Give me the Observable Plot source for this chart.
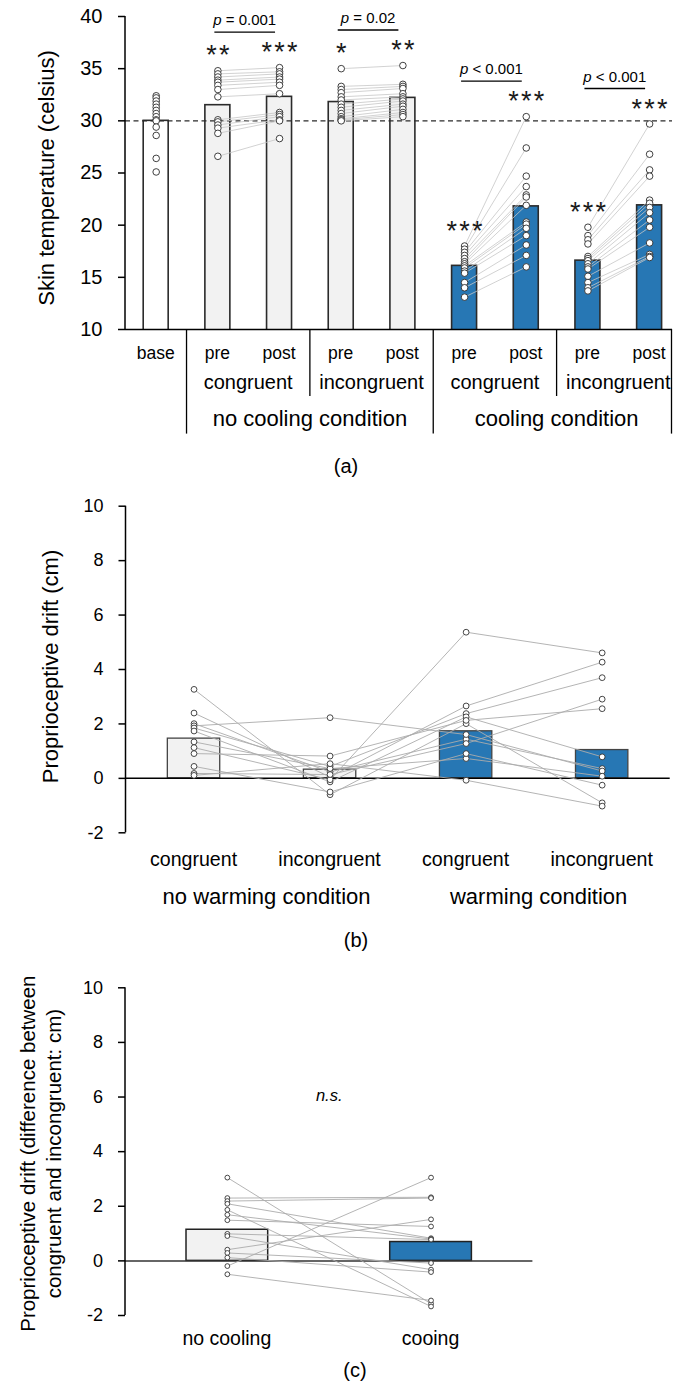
<!DOCTYPE html>
<html>
<head>
<meta charset="utf-8">
<script src="https://cdn.jsdelivr.net/npm/d3@7"></script>
<script src="https://cdn.jsdelivr.net/npm/@observablehq/plot@0.6"></script>
<style>
  html, body { margin: 0; padding: 0; background: #fff; overflow: hidden; }
  #wrap { position: relative; width: 673px; height: 1385px; font-family: "Liberation Sans", Arial, Helvetica, sans-serif; }
  #wrap > svg { position: absolute; left: 0; }
  .cap { position: absolute; width: 100px; text-align: center; font-size: 20px; line-height: 24px; color: #000; }
</style>
</head>
<body>
<div id="wrap"></div>
<script>
const FONT = '"Liberation Sans", Arial, Helvetica, sans-serif';
const BLUE = "#2777b4";
const LIGHT = "#f2f2f2";

// ---------------- Panel (a): skin temperature ----------------
const tempCats = ["base", "ncCongPre", "ncCongPost", "ncIncPre", "ncIncPost", "cCongPre", "cCongPost", "cIncPre", "cIncPost"];
const tempTickLabels = ["base", "pre", "post", "pre", "post", "pre", "post", "pre", "post"];
const tempBarGroup = ["base", "nc", "nc", "nc", "nc", "c", "c", "c", "c"];
const tempGroupLabels = ["congruent", "incongruent", "congruent", "incongruent"];
const tempGroupMembers = [[1, 2], [3, 4], [5, 6], [7, 8]];
const tempConditionLabels = ["no cooling condition", "cooling condition"];
const tempConditionMembers = [[1, 2, 3, 4], [5, 6, 7, 8]];
const tempMeans = [30.0, 31.5, 32.3, 31.8, 32.2, 16.1, 21.8, 16.6, 21.9];
const tempStars = ["", "**", "***", "*", "**", "***", "***", "***", "***"];
const tempPLabels = ["= 0.001", "= 0.02", "< 0.001", "< 0.001"];
const tempYTicks = [10, 15, 20, 25, 30, 35, 40];
const tempYTitle = "Skin temperature (celsius)";

const tempBase          = [32.4, 32.2, 31.9, 31.6, 31.3, 31.0, 30.7, 30.4, 30.1, 30.0, 29.4, 28.6, 26.4, 25.1];
const tempNoCoolCongPre  = [34.8, 34.5, 34.2, 33.9, 33.7, 33.4, 33.0, 32.3, 30.1, 29.9, 29.6, 29.3, 28.8, 26.6];
const tempNoCoolCongPost = [35.1, 34.7, 34.5, 34.2, 34.0, 33.7, 33.4, 32.6, 30.8, 30.6, 30.4, 30.1, 30.0, 28.3];
const tempNoCoolIncPre   = [35.0, 33.3, 33.0, 32.7, 32.3, 32.0, 31.6, 31.3, 31.0, 30.7, 30.4, 30.2, 30.1, 30.0];
const tempNoCoolIncPost  = [35.3, 33.5, 33.3, 33.1, 32.6, 32.3, 32.1, 31.9, 31.6, 31.4, 31.1, 30.8, 30.6, 30.4];
const tempCoolCongPre    = [18.0, 17.7, 17.4, 17.1, 16.8, 16.5, 16.3, 16.1, 15.9, 15.6, 15.4, 14.5, 14.0, 13.1];
const tempCoolCongPost   = [30.4, 27.4, 24.7, 23.7, 22.9, 22.7, 21.9, 20.3, 20.1, 19.7, 19.0, 18.1, 17.1, 16.0];
const tempCoolIncPre     = [19.8, 19.0, 18.6, 18.2, 17.0, 16.8, 16.6, 16.3, 16.0, 15.8, 15.1, 14.5, 14.0, 13.7];
const tempCoolIncPost    = [29.7, 26.8, 25.3, 24.7, 22.4, 22.1, 21.7, 21.2, 20.5, 19.8, 18.3, 17.2, 17.0, 16.9];

// ---------------- Panel (b): proprioceptive drift ----------------
const driftCats = ["nwCong", "nwInc", "wCong", "wInc"];
const driftTickLabels = ["congruent", "incongruent", "congruent", "incongruent"];
const driftBarGroup = ["nc", "nc", "c", "c"];
const driftConditionLabels = ["no warming condition", "warming condition"];
const driftConditionMembers = [[0, 1], [2, 3]];
const driftMeans = [1.46, 0.32, 1.73, 1.04];
const driftYTicks = [-2, 0, 2, 4, 6, 8, 10];
const driftYTitle = "Proprioceptive drift (cm)";
// one entry per participant, same order in every array
const driftNoWarmCong = [3.27, 2.40, 2.01, 1.93, 1.85, 1.74, 1.34, 1.13, 0.91, 0.44, 0.18, 0.11];
const driftNoWarmInc  = [-0.60, 0.05, 0.24, 2.23, 0.44, -0.13, 0.36, -0.05, 0.82, -0.50, 0.14, 0.54];
const driftWarmCong   = [2.01, 2.66, 1.44, 1.61, 2.38, 2.26, 0.73, 5.37, 2.13, 0.91, 1.28, -0.07];
const driftWarmInc    = [-0.90, 4.27, 0.36, 0.27, 3.70, 0.79, 0.08, 4.61, 2.56, -0.25, 2.91, -1.02];

// ---------------- Panel (c): difference congruent - incongruent ----------------
const diffCats = ["noCooling", "cooling"];
const diffTickLabels = ["no cooling", "cooing"];
const diffBarGroup = ["nc", "c"];
const diffMeans = [1.14, 0.69];
const diffYTicks = [-2, 0, 2, 4, 6, 8, 10];
const diffYTitle = "Proprioceptive drift (difference between\ncongruent and incongruent: cm)";
const diffNote = "n.s.";
const diffNoCooling = [3.05, 2.30, 2.19, 2.09, 1.87, 1.69, 1.49, 0.99, 0.91, 0.41, 0.29, 0.12, -0.19, -0.49];
const diffCooling   = [-1.57, 2.33, 2.30, 0.83, -1.67, 0.80, 1.26, 0.78, -0.32, 1.52, -0.08, -0.41, 3.05, -1.45];

// ---------------- helpers ----------------
function textAt(g, x, y, size, str) {
  return g.append("text").attr("x", x).attr("y", y).attr("dy", "0.35em").attr("font-size", size).text(str);
}
function vline(g, x, y1, y2, w) {
  g.append("line").attr("x1", x).attr("x2", x).attr("y1", y1).attr("y2", y2)
    .attr("stroke", "#000").attr("stroke-width", w);
}
function longRows(series, cats) {
  return series.flatMap((vals, j) => vals.map((v, i) => ({cat: cats[j], value: v, id: i})));
}
const colorScale = {domain: ["base", "nc", "c"], range: ["#ffffff", LIGHT, BLUE]};
const baseStyle = {fontFamily: FONT, fontSize: "20px", color: "#000", background: "transparent", overflow: "visible"};

// ---------------- build panel (a) ----------------
const tempSeries = [tempBase, tempNoCoolCongPre, tempNoCoolCongPost, tempNoCoolIncPre, tempNoCoolIncPost,
                    tempCoolCongPre, tempCoolCongPost, tempCoolIncPre, tempCoolIncPost];
const tempBars = tempCats.map((c, j) => ({cat: c, value: tempMeans[j], group: tempBarGroup[j]}));
const tempPoints = longRows(tempSeries, tempCats);
const tempLinks = tempGroupMembers.flatMap(([a, b]) =>
  tempSeries[a].map((v, i) => ({c1: tempCats[a], v1: v, c2: tempCats[b], v2: tempSeries[b][i]})));
const tempStarRows = tempCats.map((c, j) => ({cat: c, top: d3.max(tempSeries[j]), star: tempStars[j]}))
  .filter(d => d.star);

function decorA(index, scales, values, dims) {
  const {x, y} = scales;
  const cx = j => x(tempCats[j]) + x.bandwidth() / 2;
  const step = x.step();
  const left = dims.marginLeft, right = dims.width - dims.marginRight;
  const top = dims.marginTop, bottom = dims.height - dims.marginBottom;
  const g = d3.create("svg:g").attr("font-family", FONT).attr("text-anchor", "middle").attr("fill", "#000");
  vline(g, left, top, bottom, 1.5);
  tempTickLabels.forEach((t, j) => textAt(g, cx(j), bottom + 23.5, 17.5, t));
  tempGroupLabels.forEach((t, k) => textAt(g, d3.mean(tempGroupMembers[k], cx), bottom + 52.7, 20, t));
  tempConditionLabels.forEach((t, k) => textAt(g, d3.mean(tempConditionMembers[k], cx), bottom + 89, 22, t));
  vline(g, cx(0) + step / 2, bottom, bottom + 104.6, 1.3);
  tempConditionMembers.forEach(m => vline(g, Math.min(cx(m[m.length - 1]) + step / 2, right - 0.5), bottom, bottom + 104.6, 1.3));
  tempConditionMembers.forEach(m => vline(g, cx(m[1]) + step / 2, bottom, bottom + 67, 1.3));
  tempGroupMembers.forEach(([a, b], k) => {
    const yb = y(d3.max(tempSeries[b])) - 35;
    g.append("line").attr("x1", cx(a) - 3).attr("x2", cx(b) - 4).attr("y1", yb).attr("y2", yb)
      .attr("stroke", "#000").attr("stroke-width", 1.4);
    const t = g.append("text").attr("x", (cx(a) + cx(b)) / 2 - 3.5).attr("y", yb - 12)
      .attr("dy", "0.35em").attr("font-size", 15);
    t.append("tspan").attr("font-style", "italic").text("p");
    t.append("tspan").text(" " + tempPLabels[k]);
  });
  return g.node();
}

const plotA = Plot.plot({
  width: 673, height: 440,
  marginTop: 16, marginBottom: 111, marginLeft: 125, marginRight: 1,
  style: baseStyle,
  x: {domain: tempCats, range: [124.85, 679.95], paddingInner: 0.595, paddingOuter: 0.2975, round: false, axis: null},
  y: {domain: [tempYTicks[0], tempYTicks[tempYTicks.length - 1]], label: null},
  color: colorScale,
  marks: [
    Plot.barY(tempBars, {x: "cat", y: "value", fill: "group", stroke: "#2b2b2b", strokeWidth: 1.6, clip: true}),
    Plot.ruleY([tempMeans[0]], {stroke: "#2b2b2b", strokeWidth: 1.2, strokeDasharray: "5,3.5"}),
    Plot.link(tempLinks, {x1: "c1", y1: "v1", x2: "c2", y2: "v2", stroke: "#c6c6c6", strokeWidth: 0.8}),
    Plot.dot(tempPoints, {x: "cat", y: "value", r: 3.3, fill: "white", stroke: "#2b2b2b", strokeWidth: 0.9}),
    Plot.ruleY([tempYTicks[0]], {stroke: "#000", strokeWidth: 1.5}),
    Plot.axisY({ticks: tempYTicks, tickSize: 7, tickPadding: 16, fontSize: 20, label: null, strokeWidth: 1.5, tickFormat: d => String(d)}),
    Plot.text(tempStarRows, {x: "cat", y: "top", text: d => d.star.split("").join("\u200A"), dy: -15, fontSize: 27, fill: "#1a1a1a"}),
    Plot.text([tempYTitle], {frameAnchor: "left", textAnchor: "middle", lineAnchor: "middle", rotate: -90, dx: -79, dy: 5, fontSize: 22}),
    decorA
  ]
});

// ---------------- build panel (b) ----------------
const driftSeries = [driftNoWarmCong, driftNoWarmInc, driftWarmCong, driftWarmInc];
const driftBars = driftCats.map((c, j) => ({cat: c, value: driftMeans[j], group: driftBarGroup[j]}));
const driftPoints = longRows(driftSeries, driftCats);
const driftPaths = driftNoWarmCong.flatMap((_, i) => driftCats.map((c, j) => ({cat: c, value: driftSeries[j][i], id: i})));

function decorB(index, scales, values, dims) {
  const {x} = scales;
  const cx = j => x(driftCats[j]) + x.bandwidth() / 2;
  const left = dims.marginLeft;
  const top = dims.marginTop, bottom = dims.height - dims.marginBottom;
  const g = d3.create("svg:g").attr("font-family", FONT).attr("text-anchor", "middle").attr("fill", "#000");
  vline(g, left, top, bottom, 1.5);
  driftTickLabels.forEach((t, j) => textAt(g, cx(j), bottom + 26.7, 19.6, t));
  driftConditionLabels.forEach((t, k) => textAt(g, d3.mean(driftConditionMembers[k], cx) + 5, bottom + 63.5, 22, t));
  return g.node();
}

const plotB = Plot.plot({
  width: 673, height: 435,
  marginTop: 25.7, marginBottom: 82.7, marginLeft: 125.5, marginRight: 3.3,
  style: baseStyle,
  x: {domain: driftCats, paddingInner: 0.615, paddingOuter: 0.3075, round: false, axis: null},
  y: {domain: [driftYTicks[0], driftYTicks[driftYTicks.length - 1]], label: null},
  color: colorScale,
  marks: [
    Plot.barY(driftBars, {x: "cat", y: "value", fill: "group", stroke: "#444", strokeWidth: 1.3}),
    Plot.ruleY([0], {stroke: "#000", strokeWidth: 1.5}),
    Plot.line(driftPaths, {x: "cat", y: "value", z: "id", stroke: "#ababab", strokeWidth: 0.9}),
    Plot.dot(driftPoints, {x: "cat", y: "value", r: 2.9, fill: "white", stroke: "#333", strokeWidth: 0.9}),
    Plot.axisY({ticks: driftYTicks, tickSize: 7, tickPadding: 15.5, fontSize: 18, label: null, strokeWidth: 1.5, tickFormat: d => String(d)}),
    Plot.text([driftYTitle], {frameAnchor: "left", textAnchor: "middle", lineAnchor: "middle", rotate: -90, dx: -75.5, dy: -3, fontSize: 22}),
    decorB
  ]
});

// ---------------- build panel (c) ----------------
const diffSeries = [diffNoCooling, diffCooling];
const diffBars = diffCats.map((c, j) => ({cat: c, value: diffMeans[j], group: diffBarGroup[j]}));
const diffPoints = longRows(diffSeries, diffCats);
const diffLinks = diffNoCooling.map((v, i) => ({c1: diffCats[0], v1: v, c2: diffCats[1], v2: diffCooling[i]}));

function decorC(index, scales, values, dims) {
  const {x} = scales;
  const cx = j => x(diffCats[j]) + x.bandwidth() / 2;
  const left = dims.marginLeft;
  const top = dims.marginTop, bottom = dims.height - dims.marginBottom;
  const g = d3.create("svg:g").attr("font-family", FONT).attr("text-anchor", "middle").attr("fill", "#000");
  vline(g, left, top, bottom, 1.5);
  diffTickLabels.forEach((t, j) => textAt(g, cx(j), bottom + 23.3, 19.5, t));
  return g.node();
}

const plotC = Plot.plot({
  width: 673, height: 395,
  marginTop: 27.3, marginBottom: 40, marginLeft: 125, marginRight: 140.6,
  style: baseStyle,
  x: {domain: diffCats, paddingInner: 0.599, paddingOuter: 0.2995, round: false, axis: null},
  y: {domain: [diffYTicks[0], diffYTicks[diffYTicks.length - 1]], label: null},
  color: colorScale,
  marks: [
    Plot.barY(diffBars, {x: "cat", y: "value", fill: "group", stroke: "#222", strokeWidth: 1.5}),
    Plot.ruleY([0], {stroke: "#333", strokeWidth: 1.5}),
    Plot.link(diffLinks, {x1: "c1", y1: "v1", x2: "c2", y2: "v2", stroke: "#ababab", strokeWidth: 0.9}),
    Plot.dot(diffPoints, {x: "cat", y: "value", r: 2.4, fill: "white", stroke: "#333", strokeWidth: 0.9}),
    Plot.axisY({ticks: diffYTicks, tickSize: 7, tickPadding: 15.5, fontSize: 18, label: null, strokeWidth: 1.5, tickFormat: d => String(d)}),
    Plot.text([diffNote], {frameAnchor: "top", dy: 101, fontSize: 16.5, fontStyle: "italic"}),
    Plot.text([diffYTitle], {frameAnchor: "left", textAnchor: "middle", lineAnchor: "middle", rotate: -90, dx: -86, dy: 2, fontSize: 20.5, lineHeight: 1.27}),
    decorC
  ]
});

// ---------------- layout ----------------
const wrap = document.getElementById("wrap");
[[plotA, 0], [plotB, 480], [plotC, 960]].forEach(([el, top]) => {
  el.style.top = top + "px";
  wrap.append(el);
});
[["(a)", 346, 466], ["(b)", 356, 940], ["(c)", 355, 1370]].forEach(([t, cx, cy]) => {
  const d = document.createElement("div");
  d.className = "cap";
  d.textContent = t;
  d.style.left = (cx - 50) + "px";
  d.style.top = (cy - 12) + "px";
  wrap.append(d);
});
</script>
</body>
</html>
